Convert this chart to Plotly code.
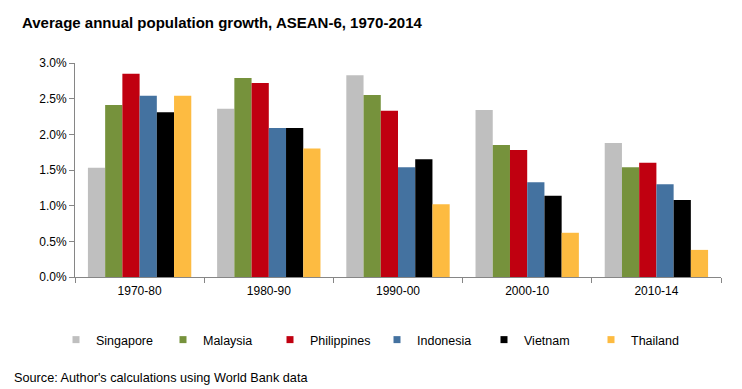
import plotly.graph_objects as go

periods = ["1970-80", "1980-90", "1990-00", "2000-10", "2010-14"]
singapore = [1.53, 2.36, 2.83, 2.34, 1.88]
malaysia = [2.41, 2.79, 2.55, 1.85, 1.54]
philippines = [2.85, 2.72, 2.33, 1.78, 1.60]
indonesia = [2.54, 2.09, 1.54, 1.33, 1.30]
vietnam = [2.31, 2.09, 1.65, 1.14, 1.08]
thailand = [2.54, 1.80, 1.02, 0.62, 0.38]

series = [
    ("Singapore", singapore, "#BFBFBF"),
    ("Malaysia", malaysia, "#76923C"),
    ("Philippines", philippines, "#C00010"),
    ("Indonesia", indonesia, "#4472A0"),
    ("Vietnam", vietnam, "#000000"),
    ("Thailand", thailand, "#FDBB41"),
]

fig = go.Figure()
for name, vals, color in series:
    fig.add_trace(go.Bar(
        x=periods, y=[v / 100 for v in vals], name=name, showlegend=False,
        marker=dict(color=color, line=dict(width=0)),
    ))
# legend entries with small square swatches
for name, vals, color in series:
    fig.add_trace(go.Scatter(
        x=[None], y=[None], name=name, mode="markers",
        marker=dict(symbol="square", size=7, color=color),
    ))

# the page body has an 8px margin, so the figure is drawn 8px in from the corner
W, H = 734, 381
L, R, T, B = 67, 21, 55, 112
pw, ph = W - L - R, H - T - B

fig.update_layout(
    width=W, height=H,
    margin=dict(l=L, r=R, t=T, b=B, pad=0, autoexpand=False),
    paper_bgcolor="white", plot_bgcolor="white",
    barmode="group", bargap=0.2, bargroupgap=0,
    font=dict(family="Liberation Sans, Arial, sans-serif", size=12, color="#000000"),
    title=dict(
        text="<b>Average annual population growth, ASEAN-6, 1970-2014</b>",
        font=dict(size=15, color="#000000"),
        x=14 / W, xref="container", xanchor="left",
        y=1 - 15 / H, yref="container", yanchor="middle",
    ),
    legend=dict(
        orientation="h", xref="container", yref="container",
        x=369 / W, xanchor="center",
        y=1 - 332 / H, yanchor="middle",
        entrywidth=62, entrywidthmode="pixels",
        font=dict(size=12.5), itemwidth=30,
        tracegroupgap=0,
    ),
    xaxis=dict(
        type="category",
        showline=True, linecolor="#868686", linewidth=1,
        ticks="outside", tickson="boundaries", ticklen=5, tickcolor="#868686",
        showgrid=False, tickfont=dict(size=12), ticklabelstandoff=3,
    ),
    yaxis=dict(
        range=[0, 0.03], dtick=0.005, tickformat=".1%",
        showline=True, linecolor="#868686", linewidth=1,
        ticks="outside", ticklen=5, tickcolor="#868686",
        showgrid=False, zeroline=False, tickfont=dict(size=12),
    ),
    annotations=[dict(
        text="Source: Author's calculations using World Bank data",
        xref="paper", yref="paper",
        x=(4 - L) / pw, y=(T + ph - 370) / ph,
        xanchor="left", yanchor="middle", showarrow=False,
        font=dict(size=12.7, color="#000000"),
    )],
)

fig.write_html("out.html")
